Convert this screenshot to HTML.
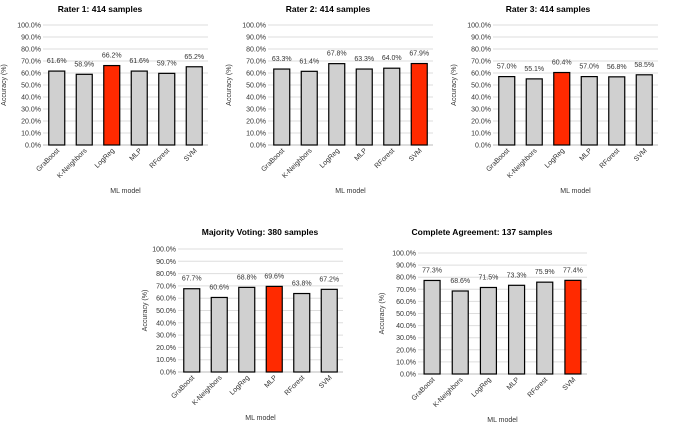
<!DOCTYPE html>
<html><head><meta charset="utf-8">
<style>
body{margin:0;background:#fff;width:685px;height:426px;overflow:hidden;font-family:"Liberation Sans",sans-serif;}
svg text{font-family:"Liberation Sans",sans-serif;}
</style></head>
<body>
<svg id="c" width="685" height="426" viewBox="0 0 685 426" xmlns="http://www.w3.org/2000/svg"></svg>
<script>
const models = ["GraBoost","K-Neighbors","LogReg","MLP","RForest","SVM"];
const rater1 = [61.6,58.9,66.2,61.6,59.7,65.2];
const rater2 = [63.3,61.4,67.8,63.3,64.0,67.9];
const rater3 = [57.0,55.1,60.4,57.0,56.8,58.5];
const majority = [67.7,60.6,68.8,69.6,63.8,67.2];
const complete = [77.3,68.6,71.5,73.3,75.9,77.4];
const yTicks = [0,10,20,30,40,50,60,70,80,90,100];
const titles = ["Rater 1: 414 samples","Rater 2: 414 samples","Rater 3: 414 samples","Majority Voting: 380 samples","Complete Agreement: 137 samples"];
const bestIdx = [2,5,2,3,5];
const series = [rater1,rater2,rater3,majority,complete];
const layout = [
 {x0:43,x1:208,y0:145,y1:25,tx:100,ty:12,ax:6},
 {x0:268,x1:433,y0:145,y1:25,tx:328,ty:12,ax:231},
 {x0:493,x1:658,y0:145,y1:25,tx:548,ty:12,ax:456},
 {x0:178,x1:343,y0:372,y1:249,tx:260,ty:235,ax:147},
 {x0:418,x1:587,y0:374,y1:253,tx:482,ty:235,ax:384}
];
const svg=document.getElementById('c');
const NS="http://www.w3.org/2000/svg";
function mk(tag,attrs,parent,txt){const e=document.createElementNS(NS,tag);for(const k in attrs)e.setAttribute(k,attrs[k]);if(txt!==undefined)e.textContent=txt;parent.appendChild(e);return e;}
series.forEach((vals,ci)=>{
 const L=layout[ci];
 const g=mk('g',{},svg);
 
 
 const ys=v=>L.y0+(L.y1-L.y0)*v/100;
 const n=models.length, step=(L.x1-L.x0)/n, bw=16;
 const xc=i=>L.x0+step*(i+0.5);
 const t=mk('text',{x:L.tx,y:L.ty,'text-anchor':'middle','font-size':'8.5','font-weight':'bold',fill:'#000'},g,titles[ci]);
 
 
 yTicks.forEach(v=>{
  const gl=mk('line',{x1:L.x0,x2:L.x1,y1:ys(v),y2:ys(v),stroke:v===0?'#bbb':'#ddd','stroke-width':1},g);
  
  
  const tl=mk('text',{x:L.x0-2,y:ys(v)+2.5,'text-anchor':'end','font-size':'7',fill:'#333'},g,v.toFixed(1)+'%');
  
  
 });
 vals.forEach((v,i)=>{
  const r=mk('rect',{x:xc(i)-bw/2,y:ys(v),width:bw,height:L.y0-ys(v),fill:i===bestIdx[ci]?'#ff2a00':'#d0d0d0',stroke:'#000','stroke-width':1.2},g);
  
  
  const vl=mk('text',{x:xc(i),y:ys(v)-8,'text-anchor':'middle','font-size':'7',fill:'#333'},g,v.toFixed(1)+'%');
  
  
  const xl=mk('text',{x:xc(i)+3,y:L.y0+6,'text-anchor':'end','font-size':'7',fill:'#333',transform:`rotate(-45 ${xc(i)+3} ${L.y0+6})`},g,models[i]);
  
  
 });
 const xt=mk('text',{x:(L.x0+L.x1)/2,y:L.y0+48,'text-anchor':'middle','font-size':'7',fill:'#333'},g,'ML model');
 
 
 const ym=(L.y0+L.y1)/2;
 const yt=mk('text',{x:L.ax,y:ym,'text-anchor':'middle','font-size':'7',fill:'#333',transform:`rotate(-90 ${L.ax} ${ym})`},g,'Accuracy (%)');
 
 
});
</script>
</body></html>
